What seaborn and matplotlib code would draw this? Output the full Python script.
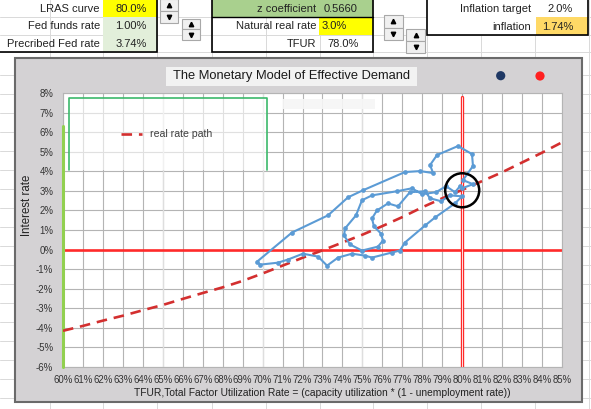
import numpy as np
import pandas as pd
import seaborn as sns
import matplotlib.pyplot as plt
from matplotlib.patches import Rectangle, Circle

W, H = 591, 409

# real rate path (dashed), one value per TFUR percent
tfur_grid = list(range(60, 86))
real_rate_path = [-4.15, -3.90, -3.63, -3.38, -3.10, -2.83, -2.52, -2.22, -1.93, -1.60,
                  -1.22, -0.82, -0.42, -0.04, 0.36, 0.76, 1.20, 1.66, 2.16, 2.62,
                  3.05, 3.50, 3.95, 4.45, 4.95, 5.48]

# observed path (blue)
path_tfur = [79.99, 80.54, 80.04, 80.54, 80.49, 79.79, 78.74, 78.39, 78.54, 77.89,
             77.13, 75.03, 74.28, 73.28, 71.47, 69.72, 69.87, 70.77, 71.27, 72.02,
             72.78, 73.23, 73.78, 74.48, 75.13, 75.48, 76.48, 76.88, 77.13, 78.14,
             78.64, 79.64, 79.99, 79.39, 78.94, 78.39, 78.14, 77.38, 76.78, 76.28,
             75.73, 75.48, 75.58, 75.93, 76.03, 75.78, 74.98, 74.38, 74.08, 74.13,
             74.68, 74.98, 75.48, 76.73, 77.48, 77.99, 78.69, 79.19, 79.64, 79.89]
path_rate = [3.13, 3.34, 3.55, 4.27, 4.88, 5.29, 4.83, 4.32, 3.91, 4.01,
             3.96, 3.03, 2.67, 1.75, 0.87, -0.62, -0.77, -0.67, -0.51, -0.21,
             -0.36, -0.82, -0.41, -0.21, -0.31, -0.41, -0.15, -0.05, 0.36, 1.23,
             1.64, 2.36, 2.72, 2.77, 2.47, 2.62, 2.98, 2.93, 2.21, 2.36,
             2.00, 1.59, 1.18, 0.82, 0.46, 0.15, -0.05, 0.26, 0.72, 1.08,
             1.75, 2.52, 2.77, 2.98, 3.13, 2.83, 2.93, 3.24, 2.93, 3.24]

current_tfur, current_rate = 80.0, 3.03
lras = 80.0

# spreadsheet cells
table1_labels = ["LRAS curve", "Fed funds rate", "Precribed Fed rate"]
table1_values = ["80.0%", "1.00%", "3.74%"]
table2_labels = ["z coefficient", "Natural real rate", "TFUR"]
table2_values = ["0.5660", "3.0%", "78.0%"]
table3_labels = ["Inflation target", "inflation"]
table3_values = ["2.0%", "1.74%"]

sns.set_style("white")
plt.rcParams["font.family"] = ["Liberation Sans", "DejaVu Sans"]

fig = plt.figure(figsize=(W / 100, H / 100), dpi=100)

# ---- background sheet, tables, chart box (pixel coords) ----
bg = fig.add_axes([0, 0, 1, 1], zorder=0)
bg.set_xlim(0, W)
bg.set_ylim(H, 0)
bg.set_aspect("auto")
bg.axis("off")

for x in [50, 103, 157, 212, 266, 320, 373, 427, 481, 535, 589]:
    bg.plot([x, x], [0, H], color="#d9d9d9", lw=0.7, zorder=0.2)
for y in [17.3, 34.6, 52] + [75 + 19 * k for k in range(18)]:
    bg.plot([0, W], [y, y], color="#d9d9d9", lw=0.7, zorder=0.2)

rows = [(0, 17.3), (17.3, 34.6), (34.6, 52)]
txt_kw = dict(fontsize=8, color="#222222", va="center", zorder=4)

# table 1
bg.add_patch(Rectangle((103, 0), 54, 17.3, fc="#ffff00", ec="none", zorder=1))
bg.add_patch(Rectangle((103, 17.3), 54, 34.7, fc="#e2efda", ec="none", zorder=1))
bg.add_patch(Rectangle((-2, -2), 159, 54, fc="none", ec="black", lw=1.2, zorder=3))
for (y0, y1), lab, val in zip(rows, table1_labels, table1_values):
    bg.text(100, (y0 + y1) / 2 + 0.5, lab, ha="right", **txt_kw)
    bg.text(131, (y0 + y1) / 2 + 0.5, val, ha="center", **txt_kw)

# table 2
bg.add_patch(Rectangle((212, 0), 161, 17.3, fc="#a9d08e", ec="none", zorder=1))
bg.add_patch(Rectangle((319, 17.3), 54, 17.3, fc="#ffff00", ec="none", zorder=1))
bg.add_patch(Rectangle((212, -2), 161, 54, fc="none", ec="black", lw=1.2, zorder=3))
bg.plot([212, 373], [17.3, 17.3], color="black", lw=1.0, zorder=3)
val2_x = [341, 334, 343]
for (y0, y1), lab, val, vx in zip(rows, table2_labels, table2_values, val2_x):
    bg.text(316, (y0 + y1) / 2 + 0.5, lab, ha="right", **txt_kw)
    bg.text(vx, (y0 + y1) / 2 + 0.5, val, ha="center", **txt_kw)

# table 3
bg.add_patch(Rectangle((427, 0), 161, 35, fc="white", ec="none", zorder=1))
bg.add_patch(Rectangle((536, 17.3), 52, 17.4, fc="#ffd966", ec="none", zorder=1))
bg.add_patch(Rectangle((427, -2), 161, 37, fc="none", ec="black", lw=1.2, zorder=3))
for (y0, y1), lab, val, vx in zip(rows[:2], table3_labels, table3_values, [560, 558]):
    bg.text(531, (y0 + y1) / 2 + 0.8, lab, ha="right", **txt_kw)
    bg.text(vx, (y0 + y1) / 2 + 0.8, val, ha="center", **txt_kw)

# spinner buttons
for x0, x1, y0, y1 in [(160, 178, -1, 22.7), (182, 200, 18.7, 40),
                       (384, 402.7, 15, 40), (406, 425, 29.3, 53.3)]:
    ym = (y0 + y1) / 2
    for a, b in [(y0, ym), (ym, y1)]:
        bg.add_patch(Rectangle((x0, a), x1 - x0, b - a, fc="#f0f0f0", ec="#a8a8a8",
                               lw=0.8, zorder=3))
    xc = (x0 + x1) / 2
    bg.plot(xc, (y0 + ym) / 2, marker="^", ms=3.2, color="black", zorder=4)
    bg.plot(xc, (ym + y1) / 2, marker="v", ms=3.2, color="black", zorder=4)

# chart area
bg.add_patch(Rectangle((15, 58), 567, 344, fc="#d4d2d4", ec="#6a6a6a", lw=1.5, zorder=5))
bg.add_patch(Rectangle((166, 67), 251, 19, fc="#f2f2f2", ec="none", zorder=6))
bg.text(291.5, 76.5, "The Monetary Model of Effective Demand", ha="center", va="center",
        fontsize=9.3, color="#1a1a1a", zorder=7)
bg.add_patch(Circle((500.7, 75.7), 4.6, fc="#1f3864", ec="none", zorder=7))
bg.add_patch(Circle((540, 76), 4.6, fc="#ff2020", ec="none", zorder=7))

# ---- plot area ----
ax = fig.add_axes([63 / W, (H - 367) / H, 499 / W, 274 / H], zorder=1)
ax.set_facecolor("white")
ax.set_xlim(60, 85)
ax.set_ylim(-6, 8)
ax.set_xticks(tfur_grid)
ax.set_xticklabels([f"{v}%" for v in tfur_grid])
ax.set_yticks(range(-6, 9))
ax.set_yticklabels([f"{v}%" for v in range(-6, 9)])
ax.grid(True, color="#b4b4b4", lw=0.8)
ax.set_axisbelow(True)
for v in [65, 70, 75]:
    ax.axvline(v, color="#dedede", lw=0.9, zorder=1)
for s in ax.spines.values():
    s.set_color("#b4b4b4")
    s.set_linewidth(0.8)
ax.tick_params(length=0, labelsize=6.9, colors="#333333")
ax.tick_params(axis="x", pad=5.5)
ax.tick_params(axis="y", pad=7)

ax.plot([60, 60], [-6, 6.3], color="#92d050", lw=2.2, clip_on=False, zorder=3)
ax.axhline(0, color="#ff2a2a", lw=1.9, zorder=2)
ax.plot([lras, lras], [-6, 7.8], color="#ff2a2a", lw=2.4, zorder=2)
ax.plot([lras, lras], [-6, 7.8], color="white", lw=0.6, zorder=2)

sns.lineplot(x=tfur_grid, y=real_rate_path, ax=ax, color="#d32f2f", lw=1.9, zorder=3)
ax.lines[-1].set_dashes([4, 2.6])

df = pd.DataFrame({"tfur": path_tfur, "rate": path_rate})
sns.lineplot(data=df, x="tfur", y="rate", ax=ax, sort=False, estimator=None,
             color="#5b9bd5", lw=1.5, marker="o", markersize=3.4, markeredgewidth=0, zorder=4)

ax.scatter([current_tfur], [current_rate], s=600, facecolors="none", edgecolors="black",
           linewidths=1.8, zorder=5)

ax.set_xlabel("TFUR,Total Factor Utilization Rate = (capacity utilization * (1 - unemployment rate))",
              fontsize=7.4, color="#222222", va="top")
ax.xaxis.set_label_coords((322 - 63) / 499, (367 - 388) / 274)
ax.set_ylabel("Interest rate", fontsize=8.3, color="#222222", va="center")
ax.yaxis.set_label_coords((26.7 - 63) / 499, (367 - 205) / 274)

# ---- legend overlay ----
fg = fig.add_axes([0, 0, 1, 1], zorder=3)
fg.set_xlim(0, W)
fg.set_ylim(H, 0)
fg.axis("off")
fg.add_patch(Rectangle((69.3, 98.3), 197.4, 72, fc="white", alpha=0.6, ec="none"))
fg.plot([69.3, 69.3, 266.7, 266.7], [170, 98.3, 98.3, 170], color="#3cb96b", lw=1.2)
fg.add_patch(Rectangle((283, 99), 92, 10, fc="#f6f6f6", ec="none", alpha=0.9))
fg.plot([121, 142], [134, 134], color="#d32f2f", lw=1.9, dashes=[4, 2.6])
fg.text(150, 134, "real rate path", fontsize=7.6, color="#404040", va="center", ha="left")

fig.savefig("out.png", dpi=100)
